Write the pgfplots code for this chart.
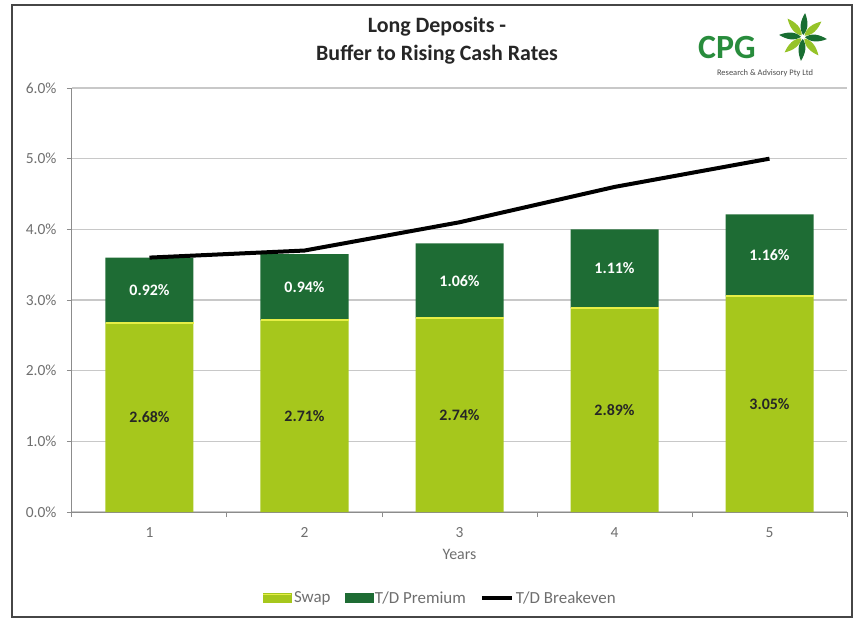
\documentclass[border=0pt]{standalone}
\usepackage{pgfplots}
\pgfplotsset{compat=1.18}
\usepackage{pgfplotstable}
\usepackage{fontspec}
\setmainfont{Carlito}
\definecolor{swapc}{RGB}{166,199,28}
\definecolor{swaptop}{RGB}{230,238,70}
\definecolor{premc}{RGB}{30,108,52}
\definecolor{gridc}{RGB}{200,200,200}
\definecolor{tickc}{RGB}{140,140,140}
\definecolor{labc}{RGB}{110,110,110}
\definecolor{logog}{RGB}{40,140,60}
\definecolor{leafd}{RGB}{25,110,50}
\definecolor{leafl}{RGB}{150,195,40}

\pgfplotstableread{
x swap prem brk
1 2.68 0.92 3.60
2 2.71 0.94 3.70
3 2.74 1.06 4.10
4 2.89 1.11 4.60
5 3.05 1.16 5.00
}\data

\begin{document}
\begin{tikzpicture}
\pgfplotsset{base/.style={scale only axis, width=775bp, height=424bp,
  xmin=0.5, xmax=5.5, ymin=0, ymax=6, at={(0,0)}, anchor=south west,
  /pgf/number format/assume math mode=true}}
\begin{axis}[base, ybar stacked, bar width=88bp,
  axis lines*=left, axis line style={tickc, line width=1bp},
  ymajorgrids, grid style={gridc, line width=1.2bp},
  tick align=outside, major tick length=5bp,
  tick style={tickc, line width=1bp},
  xtick={0.5,1.5,...,5.5}, xticklabels={},
  extra x ticks={1,2,3,4,5}, extra x tick labels={1,2,3,4,5},
  extra x tick style={major tick length=0pt},
  ytick={0,1,...,6},
  yticklabel={\pgfmathprintnumber[fixed,fixed zerofill,precision=1]{\tick}\%},
  ticklabel style={font=\fontsize{15.5}{17}\selectfont, text=labc},
  xticklabel style={yshift=-12bp},
  yticklabel style={xshift=-7bp},
  xlabel={Years}, xlabel style={font=\fontsize{16}{18}\selectfont, text=labc, yshift=0bp},
]
\addplot[fill=swapc, draw=none] table[x=x, y=swap] {\data};
\addplot[fill=premc, draw=none] table[x=x, y=prem] {\data};
\end{axis}
\begin{axis}[base, hide axis,
  legend style={at={(0.475,-0.203)}, anchor=center, draw=none, fill=none,
    legend columns=3, font=\fontsize{17}{19}\selectfont, text=labc,
    /tikz/every even column/.append style={column sep=12bp},
    /tikz/every odd column/.append style={inner xsep=1bp}},
  legend cell align=left]
\addlegendimage{legend image code/.code={\fill[swapc] (0bp,-4.5bp) rectangle (28bp,4.5bp); \draw[swaptop,line width=1.5bp] (0bp,3.5bp)--(28bp,3.5bp);}}
\addlegendentry{Swap}
\addlegendimage{legend image code/.code={\fill[premc] (0bp,-4.5bp) rectangle (28bp,4.5bp);}}
\addlegendentry{T/D Premium}
\addlegendimage{legend image code/.code={\draw[black,line width=4bp] (0bp,0bp)--(30bp,0bp);}}
\addlegendentry{T/D Breakeven}
\addplot[forget plot, only marks, mark=-, mark size=44bp, mark options={swaptop, line width=2bp}] table[x=x, y=swap] {\data};
\addplot[forget plot, black, line width=4bp] table[x=x, y=brk] {\data};
\addplot[forget plot, draw=none, mark=none, point meta={\thisrow{swap}},
  nodes near coords={\pgfmathprintnumber[fixed,fixed zerofill,precision=2]{\pgfplotspointmeta}\%},
  nodes near coords style={anchor=center, font=\bfseries\fontsize{16}{18}\selectfont, text=black!85}]
  table[x=x, y expr=\thisrow{swap}/2] {\data};
\addplot[forget plot, draw=none, mark=none, point meta={\thisrow{prem}},
  nodes near coords={\pgfmathprintnumber[fixed,fixed zerofill,precision=2]{\pgfplotspointmeta}\%},
  nodes near coords style={anchor=center, font=\bfseries\fontsize{16}{18}\selectfont, text=white}]
  table[x=x, y expr=\thisrow{swap}+\thisrow{prem}/2] {\data};
\end{axis}
% title
\node[align=center, font=\bfseries\fontsize{22}{28}\selectfont, text=black!85] at (365bp,471bp) {Long Deposits -\\Buffer to Rising Cash Rates};
% logo
\node[font=\bfseries\fontsize{34}{36}\selectfont, text=logog] at (655bp,464bp) {CPG};
\node[font=\fontsize{8.5}{10}\selectfont, text=black!70] at (693bp,439bp) {Research \& Advisory Pty Ltd};
\begin{scope}[shift={(731bp,475bp)}]
\foreach \a/\c in {85/leafd,130/leafl,175/leafd,220/leafl,265/leafd,310/leafl,355/leafd,40/leafl}{
  \fill[\c, rotate=\a] (2bp,0) .. controls (8bp,5bp) and (16bp,4bp) .. (24bp,0) .. controls (16bp,-4bp) and (8bp,-5bp) .. (2bp,0) -- cycle;
}
\end{scope}
% frame
\draw[gray!55!black, line width=1.5bp] (-60bp,-105bp) rectangle (780bp,507bp);
\pgfresetboundingbox
\useasboundingbox (-72bp,-107bp) rectangle (784bp,512bp);
\end{tikzpicture}
\end{document}
